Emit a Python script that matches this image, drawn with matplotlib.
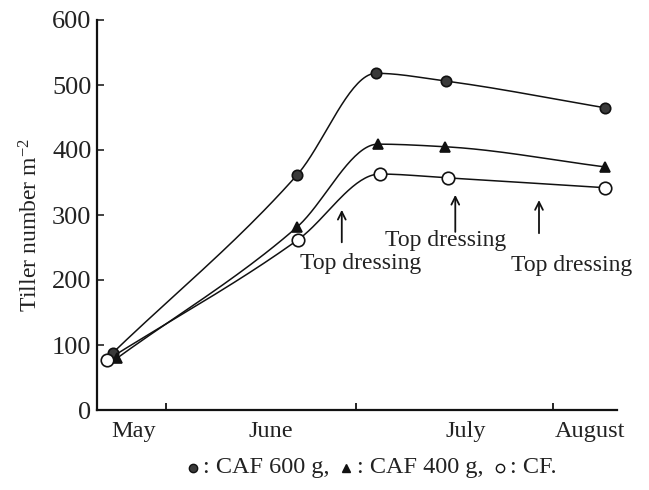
import numpy as np
import matplotlib
matplotlib.use("Agg")
import matplotlib.pyplot as plt
from matplotlib.offsetbox import HPacker, TextArea, DrawingArea, AnchoredOffsetbox
from matplotlib.lines import Line2D

# ---- data (x: days after 1 May; y: tillers per m2) ----
caf600_x = [22.6, 51.6, 64.1, 75.1, 100.2]
caf600_y = [88, 361, 518, 506, 465]
caf400_x = [23.3, 51.6, 64.4, 75.0, 100.2]
caf400_y = [80, 281, 409, 405, 374]
cf_x = [21.7, 51.8, 64.7, 75.5, 100.2]
cf_y = [77, 262, 363, 357, 342]

month_ticks = [31, 61, 92]
month_names = ["May", "June", "July", "August"]
month_label_pos = [25.8, 47.5, 78.3, 97.9]
y_ticks = [0, 100, 200, 300, 400, 500, 600]

dress_arrow_x = [58.7, 76.6, 89.8]
dress_arrow_y0 = [258, 274, 272]
dress_arrow_y1 = [308, 331, 323]
dress_text_x = [61.6, 75.1, 95.0]
dress_text_y = [226, 261, 223]
dress_text = ["Top dressing", "Top dressing", "Top dressing"]

SERIF = "Liberation Serif"
plt.rcParams["font.family"] = [SERIF, "DejaVu Serif"]
plt.rcParams["mathtext.fontset"] = "custom"
plt.rcParams["mathtext.rm"] = SERIF
plt.rcParams["mathtext.it"] = SERIF + ":italic"
plt.rcParams["mathtext.bf"] = SERIF + ":bold"


def smooth(x, y, n=40):
    """Monotone (PCHIP) curve through the given points (drawing only)."""
    x = np.asarray(x, float)
    y = np.asarray(y, float)
    h = np.diff(x)
    s = np.diff(y) / h
    d = np.zeros_like(y)
    for k in range(1, len(x) - 1):
        if s[k - 1] * s[k] <= 0:
            d[k] = 0.0
        else:
            w1 = 2 * h[k] + h[k - 1]
            w2 = h[k] + 2 * h[k - 1]
            d[k] = (w1 + w2) / (w1 / s[k - 1] + w2 / s[k])
    d[0] = s[0]
    d[-1] = s[-1]
    xs, ys = [], []
    for k in range(len(x) - 1):
        t = np.linspace(0, 1, n)
        h00 = 2 * t**3 - 3 * t**2 + 1
        h10 = t**3 - 2 * t**2 + t
        h01 = -2 * t**3 + 3 * t**2
        h11 = t**3 - t**2
        seg_y = h00 * y[k] + h10 * h[k] * d[k] + h01 * y[k + 1] + h11 * h[k] * d[k + 1]
        seg_x = x[k] + t * h[k]
        if k > 0:
            seg_x, seg_y = seg_x[1:], seg_y[1:]
        xs.append(seg_x)
        ys.append(seg_y)
    return np.concatenate(xs), np.concatenate(ys)


fig = plt.figure(figsize=(6.49, 4.90), dpi=100)
ax = fig.add_axes([97 / 649, 80 / 490, 520 / 649, 390 / 490])

lw = 1.1
for xs, ys, m, fc, ms in [
    (caf600_x, caf600_y, "o", "#3a3a3a", 7.5),
    (caf400_x, caf400_y, "^", "#111111", 7.5),
    (cf_x, cf_y, "o", "white", 9.0),
]:
    sx, sy = smooth(xs, ys)
    ax.plot(sx, sy, color="#111111", lw=lw, zorder=2)
    ax.plot(xs, ys, ls="none", marker=m, ms=ms, mfc=fc, mec="#111111", mew=1.2, zorder=3)

for xa, y0, y1 in zip(dress_arrow_x, dress_arrow_y0, dress_arrow_y1):
    ax.annotate("", xy=(xa, y1), xytext=(xa, y0),
                arrowprops=dict(arrowstyle="->", color="#111111", lw=1.3,
                                shrinkA=0, shrinkB=0, mutation_scale=14))
for tx, ty, s in zip(dress_text_x, dress_text_y, dress_text):
    ax.text(tx, ty, s, ha="center", va="center", fontsize=17, color="#222222")

ax.set_xlim(20.1, 102.1)
ax.set_ylim(0, 600)
ax.spines["top"].set_visible(False)
ax.spines["right"].set_visible(False)
for sp in ("left", "bottom"):
    ax.spines[sp].set_linewidth(1.6)
    ax.spines[sp].set_color("#111111")

ax.set_yticks(y_ticks)
ax.set_yticklabels([str(v) for v in y_ticks])
ax.tick_params(axis="y", direction="in", length=5, width=1.2, pad=4,
               labelsize=19, colors="#222222")

ax.set_xticks(month_ticks)
ax.set_xticklabels([])
ax.set_xticks(month_label_pos, minor=True)
ax.set_xticklabels(month_names, minor=True)
ax.tick_params(axis="x", which="major", direction="in", length=5, width=1.2)
ax.tick_params(axis="x", which="minor", length=0, pad=8, labelsize=17.5, colors="#222222")

ax.set_ylabel("Tiller number m$^{\\mathrm{-2}}$", fontsize=17, color="#222222")
ax.yaxis.set_label_coords(-0.105, 0.474)

# bottom legend line
def marker_box(marker, fc, ms):
    da = DrawingArea(11, 12, 0, 0)
    da.add_artist(Line2D([5.5], [5], marker=marker, ms=ms, mfc=fc, mec="#111111",
                         mew=1.0, ls="none"))
    return da

tp = dict(fontsize=17.5, color="#222222", family=SERIF)
parts = [
    marker_box("o", "#3a3a3a", 6),
    TextArea(": CAF 600 g, ", textprops=tp),
    marker_box("^", "#111111", 6),
    TextArea(": CAF 400 g, ", textprops=tp),
    marker_box("o", "white", 6),
    TextArea(": CF.", textprops=tp),
]
box = HPacker(children=parts, align="center", pad=0, sep=2)
anch = AnchoredOffsetbox(loc="center", child=box, frameon=False,
                         bbox_to_anchor=(371 / 649, 1 - 467 / 490),
                         bbox_transform=fig.transFigure, borderpad=0)
fig.add_artist(anch)

fig.savefig("out.png", dpi=100)
